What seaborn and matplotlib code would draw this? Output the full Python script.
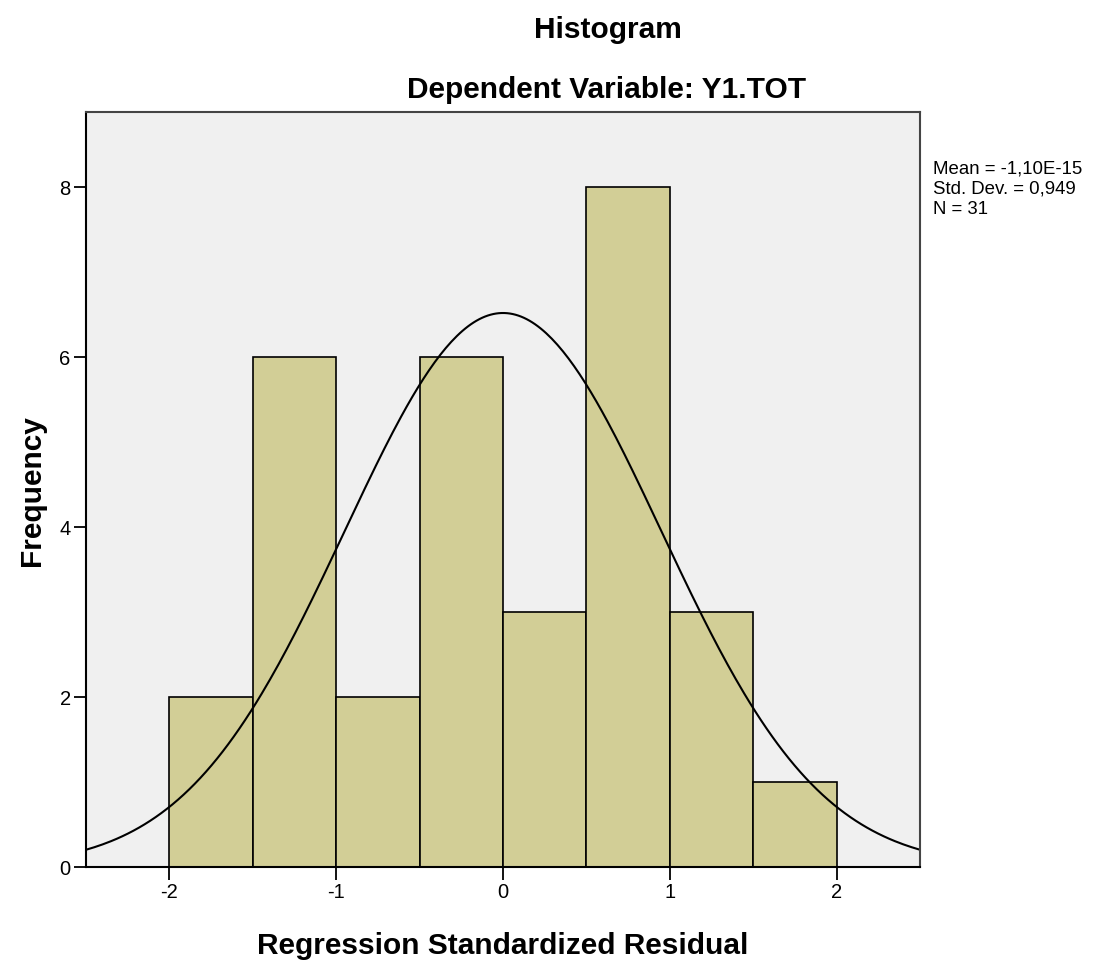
import numpy as np
import pandas as pd
import matplotlib.pyplot as plt
import seaborn as sns

# Histogram bins and frequencies
bin_edges = [-2.0, -1.5, -1.0, -0.5, 0.0, 0.5, 1.0, 1.5, 2.0]
counts = [2, 6, 2, 6, 3, 8, 3, 1]

# Summary stats shown on the chart
mean_val = -1.10e-15
std_dev = 0.949
n_obs = 31

x_ticks = [-2, -1, 0, 1, 2]
y_ticks = [0, 2, 4, 6, 8]

bin_centers = [(a + b) / 2 for a, b in zip(bin_edges[:-1], bin_edges[1:])]
df_hist = pd.DataFrame({'resid': bin_centers, 'freq': counts})

# Normal curve scaled to the histogram
bin_width = bin_edges[1] - bin_edges[0]
xs = np.linspace(-2.5, 2.5, 300)
ys = n_obs * bin_width * np.exp(-0.5 * ((xs - mean_val) / std_dev) ** 2) / (std_dev * np.sqrt(2 * np.pi))
df_curve = pd.DataFrame({'x': xs, 'y': ys})

sns.set_theme(style='white')
plt.rcParams['font.family'] = ['Liberation Sans', 'DejaVu Sans']
plt.rcParams['axes.unicode_minus'] = False
plt.rcParams['text.color'] = 'black'
plt.rcParams['axes.labelcolor'] = 'black'
plt.rcParams['xtick.color'] = 'black'
plt.rcParams['ytick.color'] = 'black'

fig = plt.figure(figsize=(11.12, 9.62), dpi=100)
ax = fig.add_axes([86 / 1112, 94 / 962, 834 / 1112, 755 / 962])
ax.set_facecolor('#F0F0F0')

sns.histplot(data=df_hist, x='resid', weights='freq', bins=bin_edges,
             color='#D2CE96', alpha=1, edgecolor='black', linewidth=1.2, ax=ax)
sns.lineplot(data=df_curve, x='x', y='y', color='black', linewidth=1.5, ax=ax)

ax.set_xlim(-2.5, 2.5)
ax.set_ylim(0, 8.88)
ax.set_xticks(x_ticks)
ax.set_yticks(y_ticks)
ax.tick_params(direction='out', length=9, width=1.3, color='black',
               labelsize=14.5, pad=2, left=True, bottom=True)

for side in ['left', 'bottom']:
    ax.spines[side].set_color('black')
    ax.spines[side].set_linewidth(1.5)
for side in ['top', 'right']:
    ax.spines[side].set_color('#444444')
    ax.spines[side].set_linewidth(1.5)

ax.set_xlabel('Regression Standardized Residual', fontsize=21.5, fontweight='bold')
ax.set_ylabel('Frequency', fontsize=21.5, fontweight='bold')
ax.xaxis.set_label_coords(0.5, -0.085)
ax.yaxis.set_label_coords(-0.048, 0.5)

fig.text(608 / 1112, 1 - 30 / 962, 'Histogram', ha='center', va='center',
         fontsize=21.5, fontweight='bold')
fig.text(607 / 1112, 1 - 90 / 962, 'Dependent Variable: Y1.TOT', ha='center', va='center',
         fontsize=21.5, fontweight='bold')

stats_text = f'Mean = -1,10E-15\nStd. Dev. = {std_dev:.3f}'.replace('.949', ',949') + f'\nN = {n_obs}'
fig.text(933 / 1112, 1 - 160 / 962, stats_text, ha='left', va='top',
         fontsize=13.4, linespacing=1.27)

fig.savefig('out.png', dpi=100)
